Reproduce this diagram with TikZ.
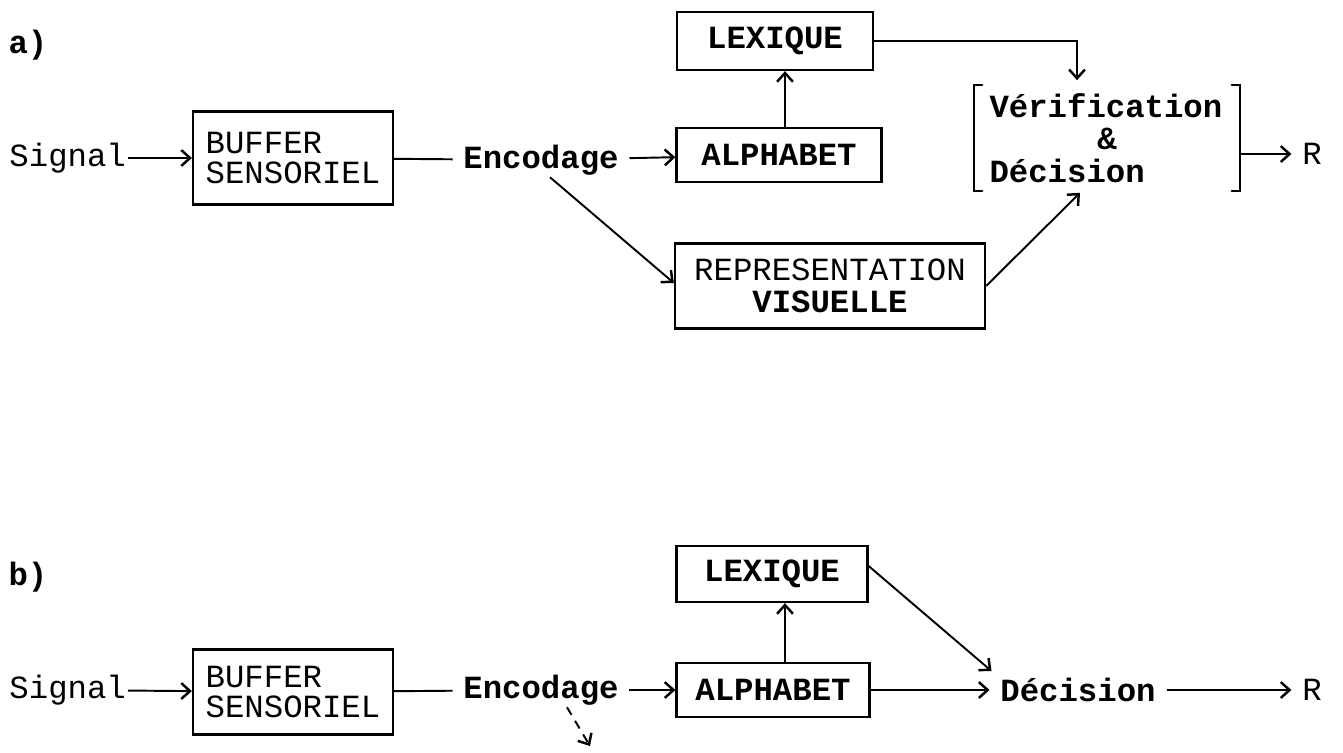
\documentclass[tikz,border=0pt]{standalone}
\usepackage{fontspec}
\setmonofont{Liberation Mono}
\usetikzlibrary{arrows.meta}

\begin{document}
\begin{tikzpicture}[x=0.02cm,y=-0.02cm]
% Styles
\tikzstyle{fleche}=[->,>={Straight Barb[length=5pt,width=9pt,line width=1.4pt]},line width=1.1pt]
\tikzstyle{trait}=[-,line width=1.1pt]
\tikzstyle{pointille}=[fleche,dash pattern=on 5pt off 4pt]
\tikzstyle{boite}=[draw,line width=1.3pt,inner sep=0pt]
\tikzstyle{crochet}=[line width=1.4pt,line cap=round]
\tikzstyle{maigre}=[inner sep=1pt,font=\Police]
\tikzstyle{gras}=[inner sep=1pt,font=\Police\bfseries]
\tikzstyle{espace}=[inner xsep=6pt]
% Polices et dimensions
\def\Police{\ttfamily\fontsize{18.4}{17}\selectfont}
\def\Crochet{0.16cm}
\useasboundingbox (0,0) rectangle (1343,752);
%% a)
% Noeuds
\node[gras] (lettreA) at (28,45) {a)};
\node[maigre,anchor=east] (signalA) at (128,158) {Signal};
\node[boite,maigre,align=left,minimum width=4cm,minimum height=1.86cm] (bufferA) at (293,158) {BUFFER\\SENSORIEL};
\node[gras,espace] (encodA) at (541,160) {Encodage};
\node[boite,gras,minimum width=4.1cm,minimum height=1.08cm] (alphaA) at (779,155) {ALPHABET};
\node[boite,gras,minimum width=3.92cm,minimum height=1.16cm] (lexiqA) at (775,41) {LEXIQUE};
\node[gras,align=left,text width=4.7cm,minimum height=2.1cm,inner ysep=0pt,inner xsep=0.3cm,
  font=\ttfamily\bfseries\fontsize{18.4}{18.6}\selectfont] (verifA) at (1107,138)
  {Vérification\\\makebox[\linewidth]{\&}\\Décision};
\node[boite,maigre,align=center,minimum width=6.2cm,minimum height=1.7cm,
  font=\ttfamily\fontsize{18.4}{18}\selectfont] (reprA) at (830,286) {REPRESENTATION\\\textbf{VISUELLE}};
\node[maigre,espace] (rA) at (1312,154) {R};
% Crochets
\draw[crochet] ([xshift=\Crochet]verifA.north west) -- (verifA.north west) -- (verifA.south west) -- ++(\Crochet,0);
\draw[crochet] ([xshift=-\Crochet]verifA.north east) -- (verifA.north east) -- (verifA.south east) -- ++(-\Crochet,0);
% Arcs
\draw[fleche] (signalA) -- (bufferA);
\draw[trait] (bufferA) -- (encodA);
\draw[fleche] (encodA) -- (alphaA);
\draw[fleche] ([xshift=0.12cm]alphaA.north) -- ([xshift=0.12cm]lexiqA.south -| alphaA.north);
\draw[fleche] (lexiqA.east) -| ([xshift=-0.6cm,yshift=0.1cm]verifA.north);
\draw[fleche] ([xshift=0.18cm]encodA.south) -- ([yshift=0.06cm]reprA.west);
\draw[fleche] (reprA.east) -- ([xshift=-0.54cm,yshift=-0.04cm]verifA.south);
\draw[fleche] (verifA.east |- rA) -- (rA);
%% b)
% Noeuds
\node[gras] (lettreB) at (28,577) {b)};
\node[maigre,anchor=east] (signalB) at (128,690) {Signal};
\node[boite,maigre,align=left,minimum width=4cm,minimum height=1.7cm] (bufferB) at (293,692) {BUFFER\\SENSORIEL};
\node[gras,espace] (encodB) at (541,690) {Encodage};
\node[boite,gras,minimum width=3.86cm,minimum height=1.08cm] (alphaB) at (773,690) {ALPHABET};
\node[boite,gras,minimum width=3.82cm,minimum height=1.12cm] (lexiqB) at (772,574) {LEXIQUE};
\node[gras,espace] (decisB) at (1078,690) {Décision};
\node[maigre,espace] (rB) at (1312,690) {R};
\coordinate (suiteB) at (590,746);
% Arcs
\draw[fleche] (signalB) -- (bufferB);
\draw[trait] (bufferB) -- (encodB);
\draw[fleche] (encodB) -- (alphaB);
\draw[fleche] ([xshift=0.24cm]alphaB.north) -- ([xshift=0.24cm]lexiqB.south -| alphaB.north);
\draw[fleche] ([yshift=0.16cm]lexiqB.east) -- ([xshift=0.04cm,yshift=0.1cm]decisB.north west);
\draw[fleche] (alphaB) -- (decisB);
\draw[fleche] (decisB) -- (rB);
\draw[pointille] ([xshift=0.52cm]encodB.south) -- (suiteB);
\end{tikzpicture}
\end{document}
